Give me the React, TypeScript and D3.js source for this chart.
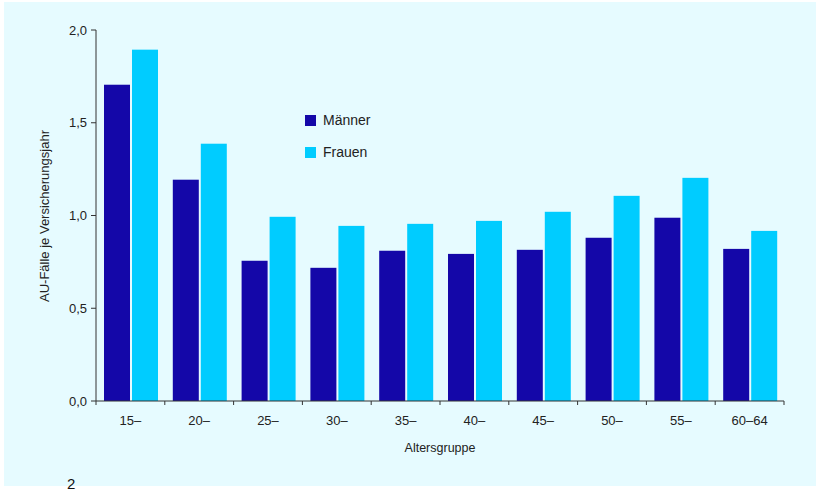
import React from "react";
import * as d3 from "d3";

const categories = ["15–", "20–", "25–", "30–", "35–", "40–", "45–", "50–", "55–", "60–64"];
const maenner = [1.705, 1.193, 0.756, 0.718, 0.81, 0.793, 0.815, 0.88, 0.988, 0.82];
const frauen = [1.894, 1.387, 0.993, 0.944, 0.955, 0.971, 1.02, 1.106, 1.203, 0.917];
const seriesNames = ["Männer", "Frauen"];
const yTicks = [0, 0.5, 1.0, 1.5, 2.0];

const W = 818;
const H = 494;
const colors = ["#1407a8", "#00ccff"];
const font = "'Liberation Sans', Arial, sans-serif";

export default function App() {
  const left = 96, right = 784, top = 30, bottom = 401;
  const x = d3.scaleBand<string>().domain(categories).range([left, right]).padding(0);
  const y = d3.scaleLinear().domain([0, 2]).range([bottom, top]);
  const fmt = (v: number) => v.toFixed(1).replace(".", ",");
  const barW = 26;
  const series = [maenner, frauen];

  return (
    <svg width={W} height={H} style={{ position: "absolute", left: 0, top: 0 }} fontFamily={font}>
      <rect x={0} y={0} width={W} height={H} fill="#ffffff" />
      <rect x={4} y={2} width={812} height={484} fill="#e6fbff" />
      {series.map((s, si) =>
        s.map((v, i) => (
          <rect
            key={`${si}-${i}`}
            x={(x(categories[i]) as number) + 8 + si * (barW + 2)}
            y={y(v)}
            width={barW}
            height={y(0) - y(v)}
            fill={colors[si]}
          />
        ))
      )}
      <line x1={left} x2={left} y1={top} y2={bottom} stroke="#333" strokeWidth={1} />
      {yTicks.map((t) => (
        <g key={t}>
          <line x1={left - 5} x2={left} y1={y(t)} y2={y(t)} stroke="#333" />
          <text x={left - 9} y={y(t)} dy="0.35em" textAnchor="end" fontSize={13} fill="#222">
            {fmt(t)}
          </text>
        </g>
      ))}
      <line x1={left} x2={right} y1={bottom} y2={bottom} stroke="#333" />
      {[...categories.map((c) => x(c) as number), right].map((p, i) => (
        <line key={i} x1={p} x2={p} y1={bottom} y2={bottom + 4} stroke="#333" />
      ))}
      {categories.map((c) => (
        <text
          key={c}
          x={(x(c) as number) + x.bandwidth() / 2}
          y={425}
          textAnchor="middle"
          fontSize={13}
          fill="#222"
        >
          {c}
        </text>
      ))}
      <text x={440} y={452} textAnchor="middle" fontSize={12.5} fill="#222">
        Altersgruppe
      </text>
      <text
        transform={`translate(49, 216) rotate(-90)`}
        textAnchor="middle"
        fontSize={13}
        fill="#222"
      >
        AU-Fälle je Versicherungsjahr
      </text>
      {seriesNames.map((n, i) => (
        <g key={n} transform={`translate(305, ${115 + i * 32})`}>
          <rect x={0} y={0} width={11} height={11} fill={colors[i]} />
          <text x={18} y={10} fontSize={14} fill="#222">
            {n}
          </text>
        </g>
      ))}
      <text x={67} y={489} fontSize={15} fill="#111">
        2
      </text>
    </svg>
  );
}
